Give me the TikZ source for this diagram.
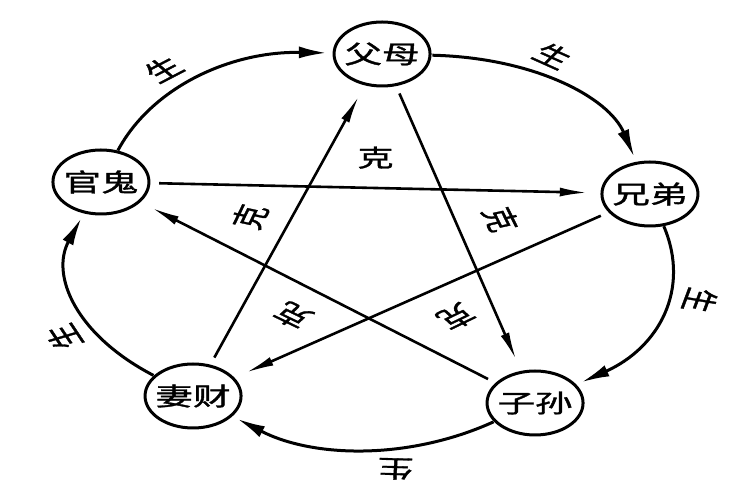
\documentclass[tikz,border=0pt]{standalone}
\usepackage{fontspec}
\newfontfamily\cjk[FakeBold=1.2]{Noto Sans CJK SC}
\usetikzlibrary{arrows.meta}
\tikzset{
  liu/.style={circle,draw,line width=3pt,minimum size=64pt,inner sep=0pt,font=\cjk\fontsize{25}{28}\selectfont},
  sheng/.style={-{Latex[length=28pt,width=12pt]},line width=3pt,shorten >=5pt,bend left=36},
  ke/.style={-{Latex[length=28pt,width=9pt]},line width=2.6pt,shorten <=8pt,shorten >=12pt},
  shlbl/.style={font=\cjk\fontsize{24}{26}\selectfont,anchor=south,inner sep=9pt},
  kelbl/.style={font=\cjk\fontsize{24}{26}\selectfont,anchor=south,inner sep=17pt},
}
\begin{document}
\begin{tikzpicture}[x=1pt,y=1pt,xscale=1.5,transform shape]
  \useasboundingbox (0,0) rectangle (500,500);
  % six relations
  \node[liu] (fumu) at (254.7,446) {父母};
  \node[liu] (guangui) at (67.3,318) {官鬼};
  \node[liu] (xiongdi) at (433.3,306) {兄弟};
  \node[liu] (qicai) at (128.7,104) {妻财};
  \node[liu] (zisun) at (356.7,97) {子孙};
  % outer ring
  \draw[sheng] (guangui) to node[shlbl,pos=.42,rotate=38]{生} (fumu);
  \draw[sheng] (fumu) to node[shlbl,pos=.38,rotate=-34]{生} (xiongdi);
  \draw[sheng] (xiongdi) to node[shlbl,pos=.38,rotate=-104]{生} (zisun);
  \draw[sheng] (zisun) to node[shlbl,pos=.37,rotate=178]{生} (qicai);
  \draw[sheng] (qicai) to node[shlbl,pos=.34,rotate=114]{生} (guangui);
  % inner star
  \draw[ke] (guangui) -- node[kelbl,inner sep=18pt]{克} (xiongdi);
  \draw[ke] (fumu) -- node[kelbl,rotate=-72]{克} (zisun);
  \draw[ke] (xiongdi) -- node[kelbl,pos=.48,inner sep=18.5pt,rotate=-144]{克} (qicai);
  \draw[ke] (zisun) -- node[kelbl,inner sep=16pt,rotate=144]{克} (guangui);
  \draw[ke] (qicai) -- node[kelbl,inner sep=14pt,rotate=72]{克} (fumu);
\end{tikzpicture}
\end{document}
